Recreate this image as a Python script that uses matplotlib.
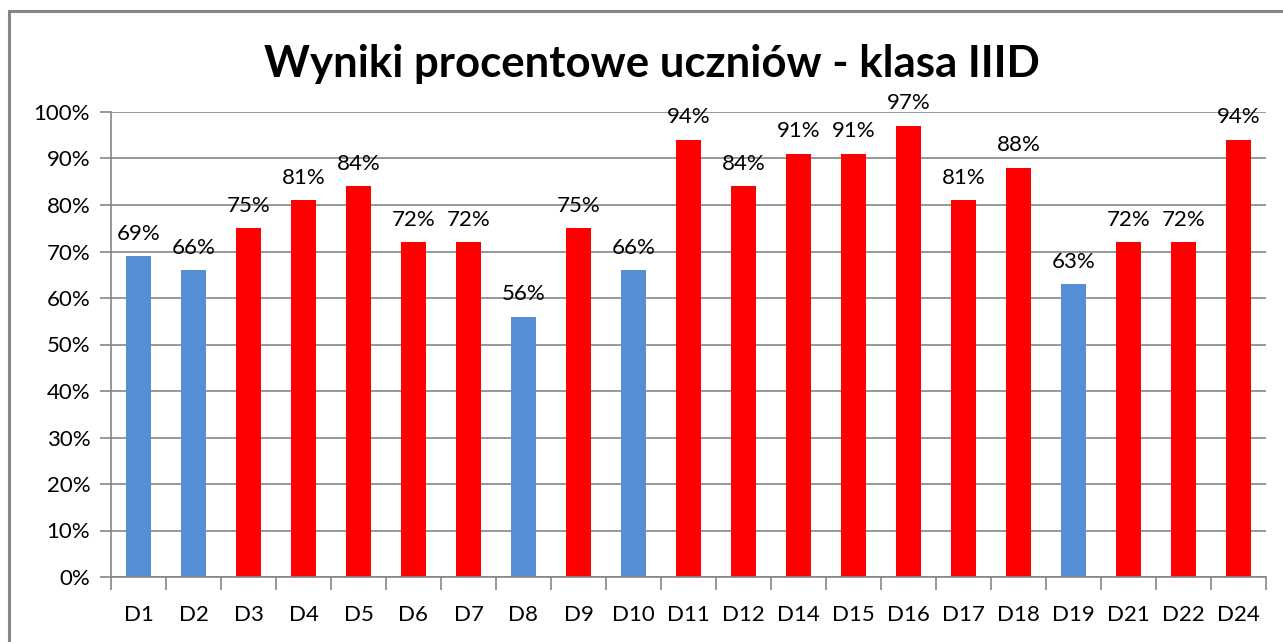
import numpy as np
import matplotlib.pyplot as plt
from matplotlib.patches import Rectangle
from matplotlib.ticker import MultipleLocator, FuncFormatter

# dane z wykresu
uczniowie = ['D1', 'D2', 'D3', 'D4', 'D5', 'D6', 'D7', 'D8', 'D9', 'D10', 'D11',
             'D12', 'D14', 'D15', 'D16', 'D17', 'D18', 'D19', 'D21', 'D22', 'D24']
wyniki = [69, 66, 75, 81, 84, 72, 72, 56, 75, 66, 94,
          84, 91, 91, 97, 81, 88, 63, 72, 72, 94]
prog = 70

plt.rcParams['font.family'] = ['Lato', 'DejaVu Sans']

fig = plt.figure(figsize=(12.83, 6.42), dpi=100)
ax = fig.add_axes([111/1283, 1 - 577/642, (1266 - 111)/1283, (577 - 112)/642])

x = np.arange(len(uczniowie))
kolory = ['#558ED5' if w < prog else '#FF0000' for w in wyniki]
ax.bar(x, wyniki, width=0.46, color=kolory, zorder=2)

for xi, w in zip(x, wyniki):
    ax.annotate(f'{w}%', (xi, w), xytext=(0, 9), textcoords='offset points',
                ha='center', va='bottom', fontsize=16, zorder=3)

ax.set_xlim(-0.5, len(uczniowie) - 0.5)
ax.set_ylim(0, 100)
ax.yaxis.set_major_locator(MultipleLocator(10))
ax.yaxis.set_major_formatter(FuncFormatter(lambda v, p: f'{v:.0f}%'))
ax.grid(axis='y', color='#868686', lw=1.2, zorder=0)

ax.set_xticks(x)
ax.set_xticklabels(uczniowie)
ax.set_xticks(np.arange(len(uczniowie) + 1) - 0.5, minor=True)
ax.tick_params(axis='x', which='major', length=0, pad=20, labelsize=16)
ax.tick_params(axis='x', which='minor', length=9, color='#868686', width=1.2)
ax.tick_params(axis='y', length=8, color='#868686', width=1.2, labelsize=16, pad=7)

for s in ['top', 'right']:
    ax.spines[s].set_visible(False)
for s in ['left', 'bottom']:
    ax.spines[s].set_color('#868686')
    ax.spines[s].set_linewidth(1.2)

fig.text(0.508, 0.9, 'Wyniki procentowe uczniów - klasa IIID',
         ha='center', va='center', fontsize=31.5, fontweight='bold')

# ramka wykresu
fig.patches.append(Rectangle((9/1283, -0.05), 1.1, 1 - 11/642 + 0.05,
                             transform=fig.transFigure, fill=False,
                             edgecolor='#868686', lw=2.2))

fig.savefig('out.png', dpi=100)
